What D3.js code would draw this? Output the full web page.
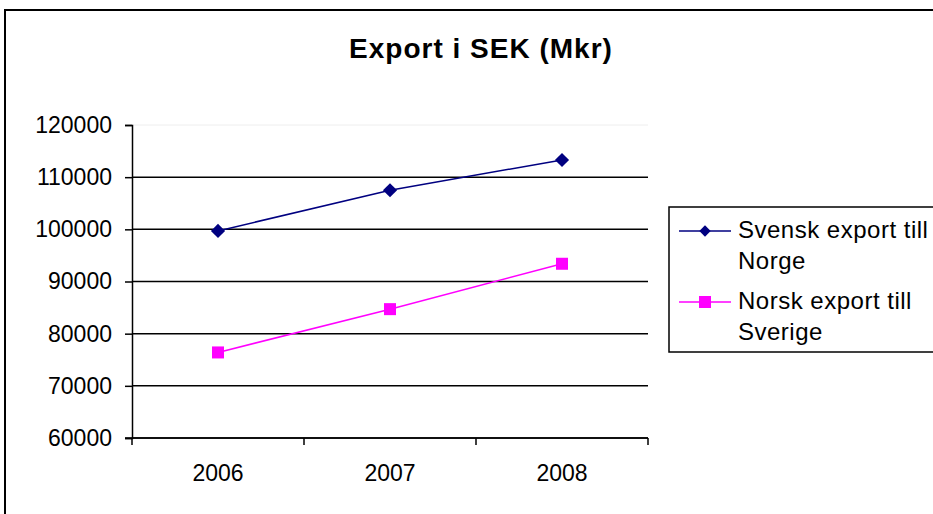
<!DOCTYPE html>
<html><head><meta charset="utf-8">
<script src="https://cdn.jsdelivr.net/npm/d3@7"></script>
<style>body{margin:0;background:#fff}svg{display:block}text{font-family:"Liberation Sans",Arial,sans-serif}</style>
</head><body><svg id="c" width="933" height="514"></svg>
<script>
const categories = ["2006","2007","2008"];
const svensk = [99700, 107500, 113300];
const norsk = [76400, 84700, 93400];
const yTicks = [60000,70000,80000,90000,100000,110000,120000];
const seriesNames = [["Svensk export till","Norge"],["Norsk export till","Sverige"]];

const svg = d3.select("#c");
svg.append("rect").attr("x",5).attr("y",10).attr("width",940).attr("height",520)
  .attr("fill","#fff").attr("stroke","#000").attr("stroke-width",2);

svg.append("text").attr("x",481).attr("y",58).attr("text-anchor","middle")
  .attr("font-size",28).attr("font-weight","bold").attr("letter-spacing",1).text("Export i SEK (Mkr)");

const L=132,R=648,T=125,B=438;
const x = d3.scaleBand().domain(categories).range([L,R]);
const y = d3.scaleLinear().domain([60000,120000]).range([B,T]);

// gridlines
svg.append("g").selectAll("line").data(yTicks).join("line")
  .attr("x1",L).attr("x2",R).attr("y1",d=>y(d)).attr("y2",d=>y(d))
  .attr("stroke",d=>d===120000?"#eeeeee":"#000").attr("stroke-width",d=>d===120000?1:1.5);

const ya = svg.append("g").attr("transform",`translate(${L},0)`)
  .call(d3.axisLeft(y).tickValues(yTicks).tickSize(7).tickPadding(13).tickFormat(d3.format("d")));
ya.select(".domain").attr("stroke","#000").attr("stroke-width",1.5);
ya.selectAll(".tick line").attr("stroke","#000").attr("stroke-width",1.5);
ya.selectAll("text").attr("font-size",23).attr("fill","#000").attr("font-family","Liberation Sans, Arial, sans-serif");

const xa = svg.append("g").attr("transform",`translate(0,${B})`)
  .call(d3.axisBottom(x).tickSize(0).tickPadding(27));
xa.select(".domain").remove();
xa.selectAll("text").attr("font-size",23).attr("fill","#000").attr("font-family","Liberation Sans, Arial, sans-serif");
const bounds = categories.map(c=>x(c)).concat([R]);
svg.append("g").selectAll("line").data(bounds).join("line")
  .attr("x1",d=>d).attr("x2",d=>d).attr("y1",B).attr("y2",B+7)
  .attr("stroke","#000").attr("stroke-width",1.5);
svg.append("line").attr("x1",L-7).attr("x2",R).attr("y1",B).attr("y2",B).attr("stroke","#000").attr("stroke-width",1.5);

const cx = c => x(c)+x.bandwidth()/2;
const line = d3.line().x((d,i)=>cx(categories[i])).y(d=>y(d));
const colors = ["#000080","#ff00ff"];
[svensk,norsk].forEach((s,k)=>{
  svg.append("path").datum(s).attr("d",line).attr("fill","none").attr("stroke",colors[k]).attr("stroke-width",1.5);
});
svg.append("g").selectAll("path").data(svensk).join("path")
  .attr("d",d3.symbol(d3.symbolSquare,100))
  .attr("transform",(d,i)=>`translate(${cx(categories[i])},${y(d)}) rotate(45)`).attr("fill","#000080");
svg.append("g").selectAll("rect").data(norsk).join("rect")
  .attr("x",(d,i)=>cx(categories[i])-6).attr("y",d=>y(d)-6).attr("width",12).attr("height",12).attr("fill","#ff00ff");

// legend
svg.append("rect").attr("x",669).attr("y",207).attr("width",280).attr("height",145)
  .attr("fill","#fff").attr("stroke","#000").attr("stroke-width",1.5);
const ly=[231,302];
seriesNames.forEach((n,k)=>{
  svg.append("line").attr("x1",679).attr("x2",731).attr("y1",ly[k]).attr("y2",ly[k]).attr("stroke",colors[k]).attr("stroke-width",1.5);
  if(k===0) svg.append("path").attr("d",d3.symbol(d3.symbolSquare,64)).attr("transform",`translate(705,${ly[k]}) rotate(45)`).attr("fill",colors[k]);
  else svg.append("rect").attr("x",699).attr("y",ly[k]-6).attr("width",12).attr("height",12).attr("fill",colors[k]);
  const t = svg.append("text").attr("x",738).attr("y",ly[k]+7).attr("font-size",24).attr("letter-spacing",0.5).attr("fill","#000");
  t.append("tspan").attr("x",738).text(n[0]);
  t.append("tspan").attr("x",738).attr("dy",31).text(n[1]);
});
</script></body></html>
